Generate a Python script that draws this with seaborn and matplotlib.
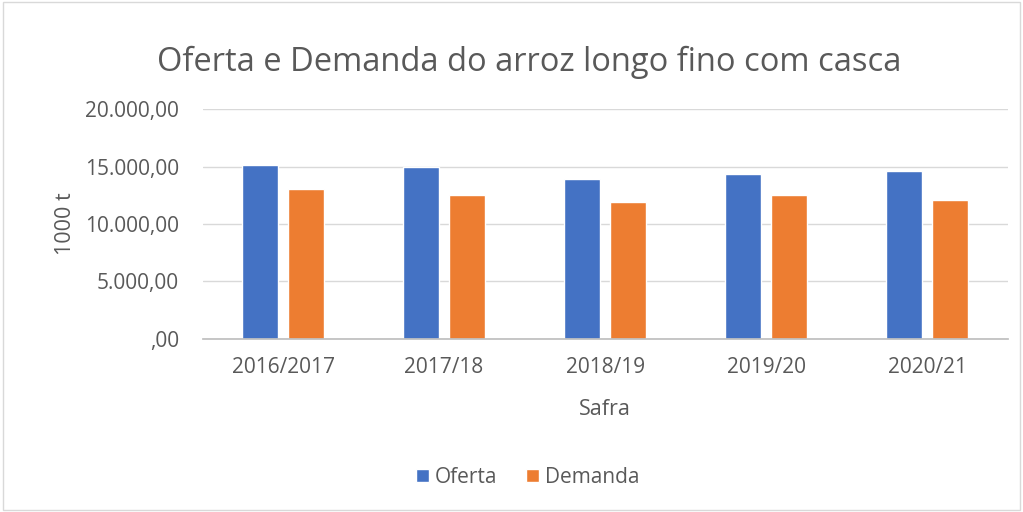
import numpy as np
import pandas as pd
import seaborn as sns
import matplotlib.pyplot as plt
from matplotlib.ticker import FuncFormatter, FixedLocator
from matplotlib.patches import Rectangle

safras = ["2016/2017", "2017/18", "2018/19", "2019/20", "2020/21"]
oferta = [15160, 14980, 13880, 14350, 14610]
demanda = [13040, 12550, 11940, 12520, 12050]

df = pd.DataFrame({
    "Safra": safras * 2,
    "valor": oferta + demanda,
    "serie": ["Oferta"] * len(safras) + ["Demanda"] * len(safras),
})

sns.set_theme(style="white")
plt.rcParams["font.family"] = ["Open Sans", "DejaVu Sans"]
cinza = "#595959"

fig = plt.figure(figsize=(10.23, 5.12), dpi=100)
ax = fig.add_axes([0.198, 0.338, 0.787, 0.449])

sns.barplot(data=df, x="Safra", y="valor", hue="serie",
            palette={"Oferta": "#4472C4", "Demanda": "#ED7D31"},
            width=0.57, gap=0.22, saturation=1, ax=ax, legend=True)

ax.set_ylim(0, 20000)
ax.set_xlim(-0.5, len(safras) - 0.5)
ax.set_yticks([0, 5000, 10000, 15000, 20000])

def fmt(v, pos):
    if v == 0:
        return ",00"
    return f"{v:,.2f}".replace(",", "X").replace(".", ",").replace("X", ".")

ax.yaxis.set_major_formatter(FuncFormatter(fmt))
ax.grid(axis="y", color="#D9D9D9", linewidth=1)
ax.set_axisbelow(True)
for s in ["top", "right", "left"]:
    ax.spines[s].set_visible(False)
ax.spines["bottom"].set_color("#BFBFBF")

ax.tick_params(axis="y", length=0, labelsize=15, labelcolor=cinza, pad=17)
ax.tick_params(axis="x", which="major", length=0, labelsize=15, labelcolor=cinza, pad=13)
ax.xaxis.set_minor_locator(FixedLocator(np.arange(-0.5, len(safras), 1)))
ax.tick_params(axis="x", which="minor", length=5, color="#BFBFBF", width=1)

ax.set_xlabel("Safra", fontsize=15.5, color=cinza, labelpad=15)
ax.set_ylabel("1000 t", fontsize=15.5, color=cinza)
ax.yaxis.set_label_coords(-0.157, 0.5)
fig.suptitle("Oferta e Demanda do arroz longo fino com casca", fontsize=23.5,
             color=cinza, x=0.517, y=0.879, va="center")

handles, labels = ax.get_legend_handles_labels()
ax.legend_.remove()
fig.legend(handles, labels, loc="center", bbox_to_anchor=(0.516, 0.067), ncol=2,
           frameon=False, fontsize=15, labelcolor=cinza, handlelength=0.6,
           handleheight=0.6, handletextpad=0.3, columnspacing=1.4)

fig.patches.append(Rectangle((0.003, 0.003), 0.994, 0.994, transform=fig.transFigure,
                             fill=False, edgecolor="#D9D9D9", linewidth=1))

fig.savefig("out.png", dpi=100)
